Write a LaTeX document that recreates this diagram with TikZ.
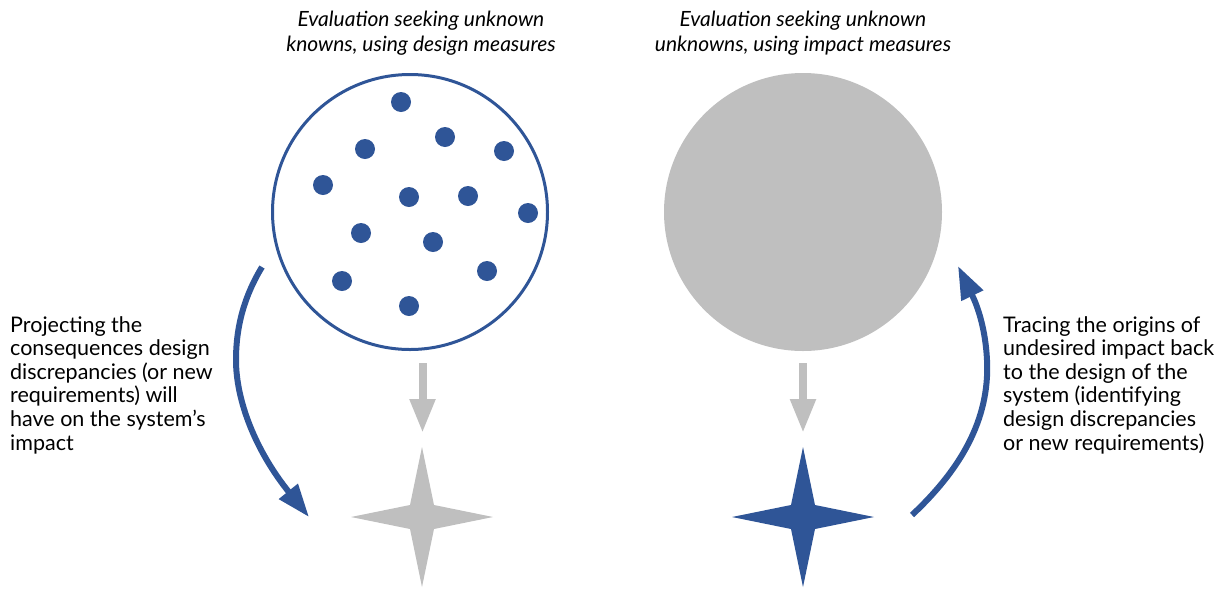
\documentclass[tikz,border=0pt]{standalone}
\usepackage{fontspec}
\setmainfont{Lato}
\usetikzlibrary{arrows.meta}
\definecolor{myblue}{HTML}{2F5597}
\definecolor{mygray}{HTML}{BFBFBF}
\tikzset{
  dot/.style={circle, fill=myblue, minimum size=20pt, inner sep=0},
  bodytext/.style={align=left, inner sep=0, font=\fontsize{21.5}{23.6}\selectfont},
  titletext/.style={align=center, inner sep=0, font=\fontsize{21}{25}\selectfont\itshape},
  grayarrow/.style={draw=mygray, line width=8pt, -{Triangle[length=34pt, width=24pt]}},
  curvearrow/.style={draw=myblue, line width=6pt, -{Triangle[length=33pt, width=23pt]}},
}
\begin{document}
\begin{tikzpicture}[x=1pt, y=-1pt]
\useasboundingbox (0,0) rectangle (1227,590);
% circles
\node[circle, draw=myblue, line width=3pt, minimum size=275pt, inner sep=0] (lc) at (410,212) {};
\node[circle, fill=mygray, minimum size=278pt, inner sep=0] (rc) at (803,212) {};
% dots
\foreach \x/\y [count=\i] in {401/102,445/137,365/149,504/151,323/185,409/197,468/196,528/213,361/233,433/242,487/271,342/281,409/306}
  \node[dot] (d\i) at (\x,\y) {};
% titles
\node[titletext, anchor=north] (t1) at (421,11) {Evaluation seeking unknown\\knowns, using design measures};
\node[titletext, anchor=north] (t2) at (803,11) {Evaluation seeking unknown\\unknowns, using impact measures};
% stars
\fill[mygray] (422,517) ++(71,0) -- ++(-59,-12) -- ++(-12,-58) -- ++(-12,58) -- ++(-59,12) -- ++(59,12) -- ++(12,58) -- ++(12,-58) -- cycle;
\fill[myblue] (803,517) ++(71,0) -- ++(-59,-12) -- ++(-12,-58) -- ++(-12,58) -- ++(-59,12) -- ++(59,12) -- ++(12,58) -- ++(12,-58) -- cycle;
% gray arrows
\coordinate (ga1s) at (422.5,363);
\coordinate (ga1e) at (422.5,433);
\coordinate (ga2s) at (803,363);
\coordinate (ga2e) at (803,433);
\draw[grayarrow] (ga1s) -- (ga1e);
\draw[grayarrow] (ga2s) -- (ga2e);
% curved arrows
\coordinate (ca1s) at (262,267);
\coordinate (ca1e) at (309,517);
\coordinate (ca2s) at (912,515);
\coordinate (ca2e) at (958,266);
\draw[curvearrow] (ca1s) .. controls (245,295) and (236,325) .. (236,360) .. controls (236,400) and (255,450) .. (ca1e);
\draw[curvearrow] (ca2s) .. controls (960,470) and (990,420) .. (987,360) .. controls (985,320) and (973,297) .. (ca2e);
% texts
\node[bodytext, anchor=north west] (lt) at (10,316) {Projecting the\\consequences design\\discrepancies (or new\\requirements) will\\have on the system’s\\impact};
\node[bodytext, anchor=north west] (rt) at (1003,316) {Tracing the origins of\\undesired impact back\\to the design of the\\system (identifying\\design discrepancies\\or new requirements)};
\end{tikzpicture}
\end{document}
